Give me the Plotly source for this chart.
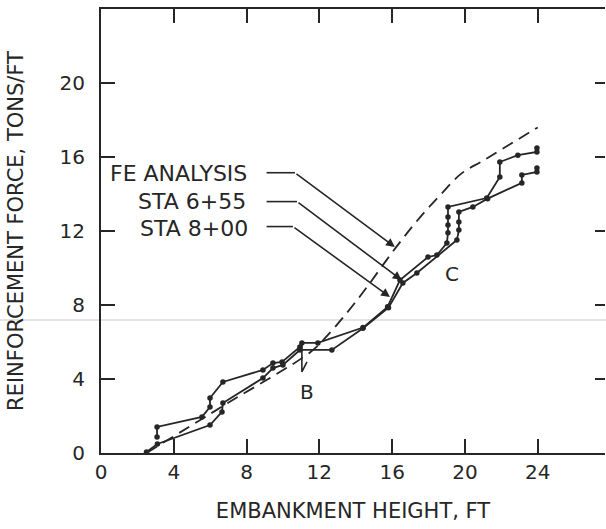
import plotly.graph_objects as go

# Embankment height (ft) vs reinforcement force (tons/ft)
fe_height = [2.5, 6.8, 11.5, 12.4, 14.1, 16.2, 17.5, 18.7, 19.8, 21.0, 22.5, 24.0]
fe_force = [0.0, 2.6, 5.45, 6.3, 8.3, 11.1, 12.7, 14.0, 15.1, 15.8, 16.7, 17.6]

sta655_height = [3.08, 3.08, 5.55, 5.99, 5.99, 6.7, 8.9, 9.45, 9.95, 10.93, 11.04, 11.92,
                 14.4, 15.75, 16.43, 17.97, 18.46, 19.01, 19.07, 19.07, 19.07, 19.07,
                 21.2, 21.92, 21.92, 22.91, 23.96, 23.96]
sta655_force = [0.86, 1.41, 1.95, 2.49, 2.97, 3.84, 4.49, 4.86, 4.92, 5.73, 5.95, 5.95,
                6.78, 7.9, 9.35, 10.59, 10.7, 11.35, 11.9, 12.32, 12.76, 13.3,
                13.78, 14.92, 15.73, 16.1, 16.27, 16.49]

sta800_height = [2.5, 3.1, 5.99, 6.65, 6.7, 8.9, 9.45, 10.0, 10.93, 12.69, 14.4, 15.8,
                 16.59, 17.36, 19.56, 19.67, 19.67, 19.67, 20.44, 21.25, 23.13, 23.13,
                 23.96, 23.96]
sta800_force = [0.05, 0.49, 1.51, 2.22, 2.7, 4.05, 4.59, 4.76, 5.57, 5.57, 6.74, 7.85,
                9.19, 9.73, 11.51, 12.05, 12.49, 13.03, 13.3, 13.75, 14.6, 15.03,
                15.19, 15.41]

x_ticks = [0, 4, 8, 12, 16, 20, 24]
y_ticks = [0, 4, 8, 12, 16, 20]
x_range = [0, 27.7]
y_range = [0, 24]

# Callout labels: text anchor, leader elbow, and arrow tip
labels = ["FE ANALYSIS", "STA 6+55", "STA 8+00"]
label_x = [8.15, 8.1, 8.2]
label_y = [15.12, 13.6, 12.15]
leader_start_x = [9.1, 9.1, 9.1]
elbow_x = [10.66, 10.77, 10.55]
elbow_y = [15.15, 13.59, 12.24]
tip_x = [16.15, 16.52, 15.88]
tip_y = [11.14, 9.35, 8.43]

# Phase letters
phase_text = ["A", "B", "C"]
phase_x = [1.5, 11.3, 19.3]
phase_y = [-0.5, 3.3, 9.7]
# pointer stroke under B
b_pointer_x = [11.04, 11.04, 11.32]
b_pointer_y = [5.84, 4.38, 4.92]

ink = "#262626"
font_family = "DejaVu Sans"

fig = go.Figure()

fig.add_trace(go.Scatter(
    x=fe_height, y=fe_force, mode="lines",
    line=dict(color=ink, width=1.8, dash="12px,7px"),
    line_shape="spline", showlegend=False, hoverinfo="skip"))

for hx, fy in [(sta655_height, sta655_force), (sta800_height, sta800_force)]:
    fig.add_trace(go.Scatter(
        x=hx, y=fy, mode="lines+markers",
        line=dict(color=ink, width=1.8),
        marker=dict(color=ink, size=5.5),
        showlegend=False, hoverinfo="skip"))

fig.add_trace(go.Scatter(
    x=b_pointer_x, y=b_pointer_y, mode="lines",
    line=dict(color=ink, width=1.6), showlegend=False, hoverinfo="skip"))

# faint horizontal streak across the sheet
fig.add_shape(type="line", xref="paper", yref="y", x0=-0.25, x1=1.01, y0=7.19, y1=7.19,
              line=dict(color="#e4e4e4", width=2), layer="below")

for i, txt in enumerate(labels):
    fig.add_annotation(x=label_x[i], y=label_y[i], text=txt, showarrow=False,
                       xanchor="right", yanchor="middle",
                       font=dict(family=font_family, size=22, color=ink))
    fig.add_shape(type="line", xref="x", yref="y",
                  x0=leader_start_x[i], y0=elbow_y[i], x1=elbow_x[i], y1=elbow_y[i],
                  line=dict(color=ink, width=1.6))
    fig.add_annotation(x=tip_x[i], y=tip_y[i], ax=elbow_x[i], ay=elbow_y[i],
                       axref="x", ayref="y", xref="x", yref="y", text="",
                       showarrow=True, arrowhead=2, arrowsize=1.1, arrowwidth=1.6,
                       arrowcolor=ink)

for t, px, py in zip(phase_text, phase_x, phase_y):
    fig.add_annotation(x=px, y=py, text=t, showarrow=False,
                       font=dict(family=font_family, size=20, color=ink))

tick_font = dict(family=font_family, size=20, color=ink)
title_font = dict(family=font_family, size=21, color=ink)

fig.update_layout(
    width=606, height=529,
    margin=dict(l=101, r=1, t=9, b=76),
    paper_bgcolor="white", plot_bgcolor="white",
    font=tick_font,
    xaxis=dict(
        range=x_range, tickvals=x_ticks, ticktext=[str(v) for v in x_ticks],
        ticks="inside", ticklen=14, tickwidth=1.8, tickcolor=ink,
        showline=True, linecolor=ink, linewidth=2, mirror="ticks",
        showgrid=False, zeroline=False, tickfont=tick_font,
        title=dict(text="EMBANKMENT HEIGHT, FT", font=title_font, standoff=20),
    ),
    yaxis=dict(
        range=y_range, tickvals=y_ticks, ticktext=[str(v) for v in y_ticks],
        ticks="inside", ticklen=14, tickwidth=1.8, tickcolor=ink,
        showline=True, linecolor=ink, linewidth=2,
        showgrid=False, zeroline=False, tickfont=tick_font, ticklabelstandoff=10,
        title=dict(text="REINFORCEMENT FORCE, TONS/FT", font=title_font, standoff=30),
    ),
    yaxis2=dict(
        range=y_range, overlaying="y", side="right",
        tickvals=y_ticks[1:], showticklabels=False,
        ticks="inside", ticklen=10, tickwidth=1.8, tickcolor=ink,
        showline=False, showgrid=False, zeroline=False,
    ),
)

# empty trace so the right-hand tick axis is rendered
fig.add_trace(go.Scatter(x=[None], y=[None], yaxis="y2", showlegend=False, hoverinfo="skip"))

fig.write_html("out.html")
